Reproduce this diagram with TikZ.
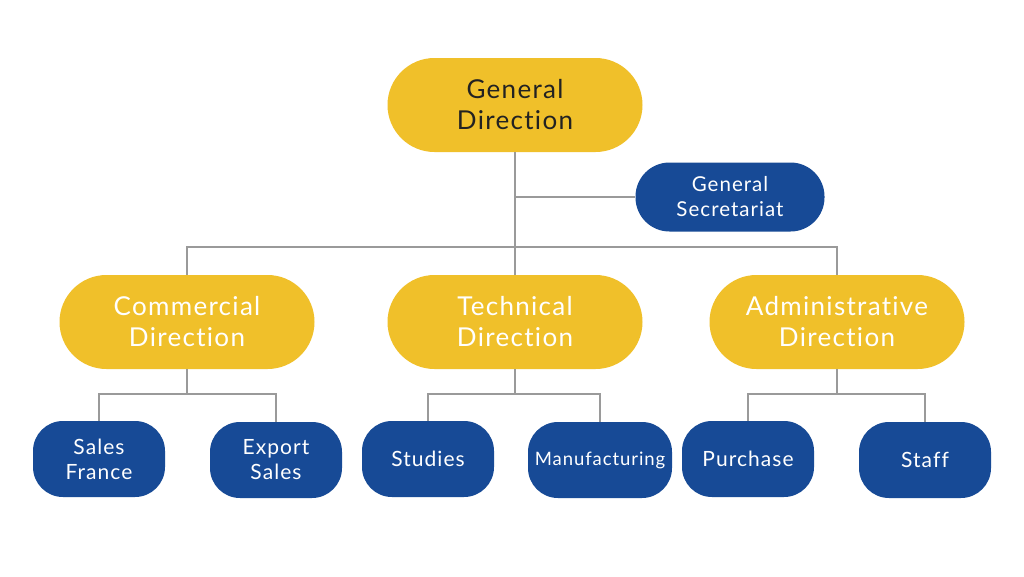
\documentclass[tikz,border=0pt]{standalone}
\usepackage{fontspec}
\setmainfont{Lato}[LetterSpace=5,Ligatures={NoCommon,NoRare,NoDiscretionary}]
\definecolor{yel}{HTML}{F0C02A}
\definecolor{blu}{HTML}{174A96}
\definecolor{lin}{HTML}{9A9A9A}
\definecolor{dark}{HTML}{222222}
\begin{document}
\begin{tikzpicture}[x=1pt,y=-1pt,
  big/.style={fill=yel,rounded corners=47pt,minimum width=255pt,minimum height=94pt,inner sep=0pt,align=center,font=\fontsize{26}{31}\selectfont,text=white},
  mid/.style={fill=blu,rounded corners=34pt,minimum width=189pt,minimum height=69pt,inner sep=0pt,align=center,font=\fontsize{20.5}{25}\selectfont,text=white},
  small/.style={fill=blu,rounded corners=30pt,minimum width=132pt,minimum height=76pt,inner sep=0pt,align=center,font=\fontsize{21}{25}\selectfont,text=white},
  conn/.style={draw=lin,line width=1.2pt}]
\useasboundingbox (0,0) rectangle (1024,576);
\fill[white] (0,0) rectangle (1024,576);
\node[big,text=dark] (gd) at (515,105) {General\\Direction};
\node[mid] (gs) at (730,197) {General\\Secretariat};
\node[big] (cd) at (187,322) {Commercial\\Direction};
\node[big] (td) at (515,322) {Technical\\Direction};
\node[big] (ad) at (837,322) {Administrative\\Direction};
\node[small] (sf) at (99,459) {Sales\\France};
\node[small] (es) at (276,460) {Export\\Sales};
\node[small] (st) at (428,459) {Studies};
\node[small,minimum width=144pt,font=\fontsize{18.5}{22}\selectfont] (mf) at (600,460) {Manufacturing};
\node[small] (pu) at (748,459) {Purchase};
\node[small] (sa) at (925,460) {Staff};
\coordinate (j1) at (515,247);
\coordinate (j2) at (187,394);
\coordinate (j3) at (515,394);
\coordinate (j4) at (837,394);
\draw[conn] (gd.south) -- (j1);
\draw[conn] (gd.south |- gs.west) -- (gs.west);
\draw[conn] (cd.north) |- (j1) -| (ad.north);
\draw[conn] (j1) -- (td.north);
\draw[conn] (cd.south) -- (j2);
\draw[conn] (sf.north) |- (j2) -| (es.north);
\draw[conn] (td.south) -- (j3);
\draw[conn] (st.north) |- (j3) -| (mf.north);
\draw[conn] (ad.south) -- (j4);
\draw[conn] (pu.north) |- (j4) -| (sa.north);
\end{tikzpicture}
\end{document}
